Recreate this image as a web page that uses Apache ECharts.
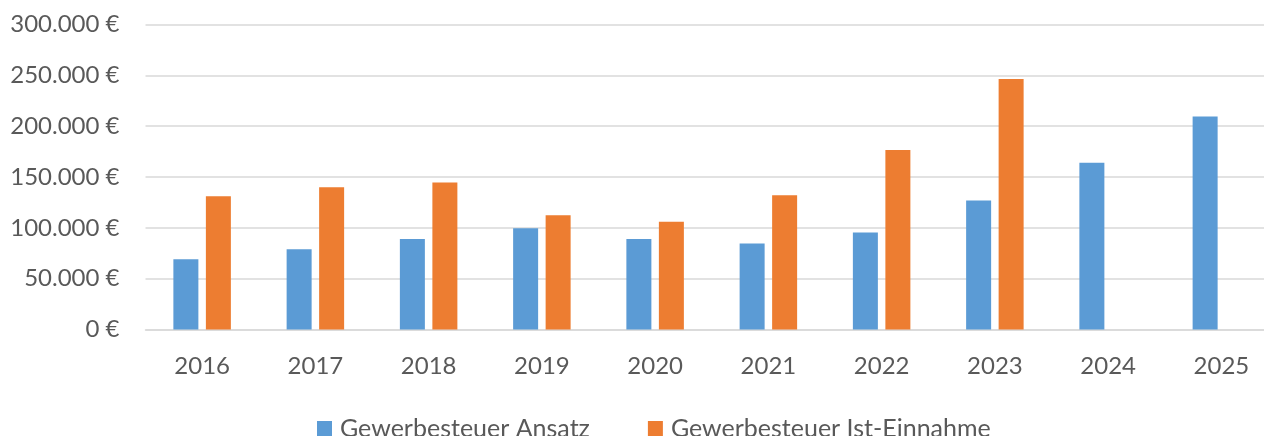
<!DOCTYPE html>
<html>
<head>
<meta charset="utf-8">
<script src="https://cdn.jsdelivr.net/npm/echarts@6/dist/echarts.min.js"></script>
<style>html,body{margin:0;padding:0;background:#fff;overflow:hidden;width:1264px;height:436px}#c{width:1300px;height:436px}</style>
</head>
<body>
<div id="c"></div>
<script>
var categories = ['2016','2017','2018','2019','2020','2021','2022','2023','2024','2025'];
var ansatz = [69000, 79000, 89000, 99500, 89000, 84500, 95500, 127000, 164000, 209500];
var istEinnahme = [131000, 140000, 144500, 112500, 106000, 132000, 176500, 246500, null, null];
var seriesNames = ['Gewerbesteuer Ansatz', 'Gewerbesteuer Ist-Einnahme'];

function fmt(v) {
  var s = String(Math.round(v));
  return s.replace(/\B(?=(\d{3})+(?!\d))/g, '.') + ' €';
}

var chart = echarts.init(document.getElementById('c'), null, {renderer: 'canvas'});
var font = 'Lato, "Open Sans", sans-serif';
chart.setOption({
  animation: false,
  backgroundColor: '#fff',
  textStyle: {fontFamily: font},
  grid: {left: 145.5, top: 24.5, width: 1132.5, height: 305},
  legend: {
    left: 312, top: 411,
    itemWidth: 15, itemHeight: 15, itemGap: 58,
    icon: 'rect',
    textStyle: {color: '#595959', fontSize: 25, fontFamily: font, padding: [0,0,0,3]},
    data: seriesNames
  },
  xAxis: {
    type: 'category',
    data: categories,
    axisLine: {lineStyle: {color: '#d9d9d9', width: 1.5}},
    axisTick: {show: false},
    axisLabel: {color: '#595959', fontSize: 24, margin: 25, fontFamily: font}
  },
  yAxis: {
    type: 'value',
    min: 0, max: 300000, interval: 50000,
    axisLine: {show: false},
    axisTick: {show: false},
    splitLine: {lineStyle: {color: '#d9d9d9', width: 1.5}},
    axisLabel: {color: '#595959', fontSize: 24, margin: 26, fontFamily: font, formatter: fmt}
  },
  series: [
    {name: seriesNames[0], type: 'bar', data: ansatz, barWidth: 25, barGap: '30%', itemStyle: {color: '#5B9BD5'}},
    {name: seriesNames[1], type: 'bar', data: istEinnahme, barWidth: 25, barGap: '30%', itemStyle: {color: '#ED7D31'}}
  ]
});
</script>
</body>
</html>
